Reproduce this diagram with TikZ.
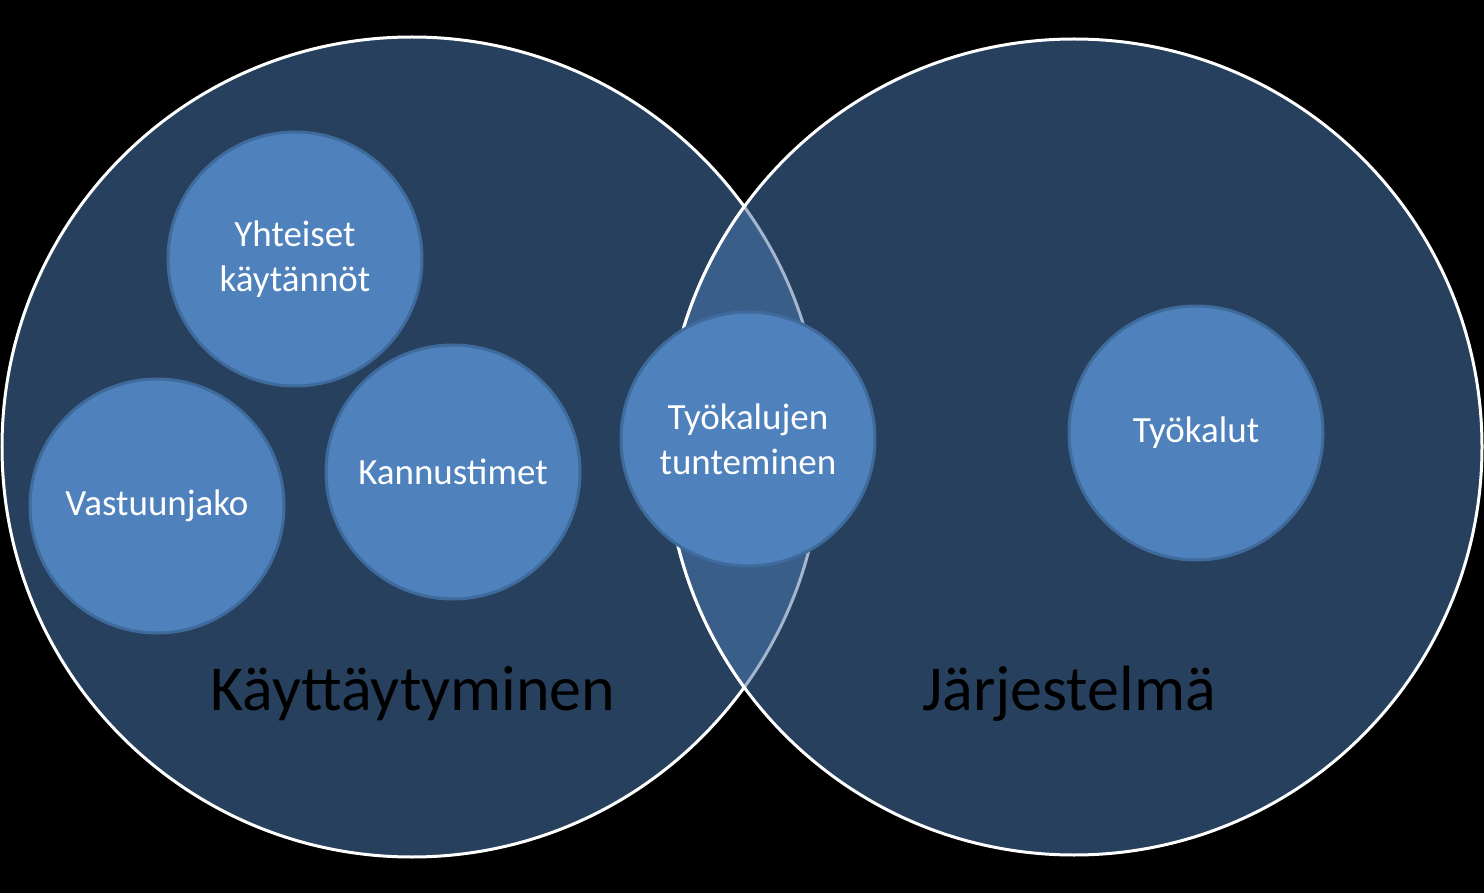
\documentclass[tikz,border=0pt]{standalone}
\usepackage{fontspec}
\setmainfont{Carlito}
\begin{document}
\begin{tikzpicture}[x=1pt,y=-1pt,
  big/.style={line width=3pt, draw=white, fill=bigfill},
  small/.style={circle, minimum size=254pt, inner sep=0pt, fill=smallfill, draw=smalledge, line width=3pt,
    text=white, align=center, font=\fontsize{37}{45}\selectfont},
  biglabel/.style={anchor=base, text=black, font=\fontsize{64}{70}\selectfont, inner sep=0pt}]
\definecolor{bigfill}{HTML}{27405E}
\definecolor{lensfill}{HTML}{3A5E8A}
\definecolor{lensedge}{HTML}{A3B6CD}
\definecolor{smallfill}{HTML}{4F81BD}
\definecolor{smalledge}{HTML}{3F6A9C}
\fill[black] (0,0) rectangle (1484,893);
\useasboundingbox (0,0) rectangle (1484,893);
\coordinate (cl) at (412,447);
\coordinate (cr) at (1074,447);
% big circles
\path[big] (cl) circle[radius=410];
\path[big] (cr) circle[radius=408];
% lens
\begin{scope}
  \clip (cr) circle[radius=408];
  \path[fill=lensfill, draw=lensedge, line width=3pt] (cl) circle[radius=410];
\end{scope}
\begin{scope}
  \clip (cl) circle[radius=412];
  \draw[white, line width=3pt] (cr) circle[radius=408];
\end{scope}
% small circles
\node[small] (yk) at (295,259) {Yhteiset\\käytännöt};
\node[small] (va) at (157,506) {Vastuunjako};
\node[small] (ka) at (453,472) {Kannustimet};
\node[small] (tt) at (748,439) {Työkalujen\\tunteminen};
\node[small] (ty) at (1196,433) {Työkalut};
% big labels
\node[biglabel] (kay) at (413,710) {Käyttäytyminen};
\node[biglabel] (jar) at (1069,710) {Järjestelmä};
\end{tikzpicture}
\end{document}
